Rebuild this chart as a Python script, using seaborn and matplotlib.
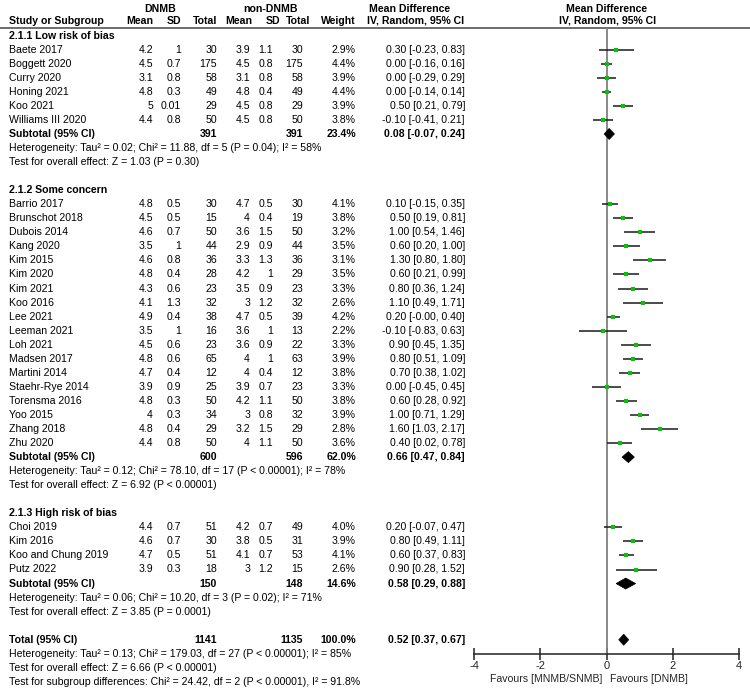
import numpy as np
import pandas as pd
import matplotlib
matplotlib.use("Agg")
import matplotlib.pyplot as plt
from matplotlib.patches import Polygon
import seaborn as sns

# ---------------- data ----------------
group_titles = ["2.1.1 Low risk of bias", "2.1.2 Some concern", "2.1.3 High risk of bias"]

studies = [
    ["Baete 2017", "Boggett 2020", "Curry 2020", "Honing 2021", "Koo 2021", "Williams III 2020"],
    ["Barrio 2017", "Brunschot 2018", "Dubois 2014", "Kang 2020", "Kim 2015", "Kim 2020",
     "Kim 2021", "Koo 2016", "Lee 2021", "Leeman 2021", "Loh 2021", "Madsen 2017",
     "Martini 2014", "Staehr-Rye 2014", "Torensma 2016", "Yoo 2015", "Zhang 2018", "Zhu 2020"],
    ["Choi 2019", "Kim 2016", "Koo and Chung 2019", "Putz 2022"],
]
mean_dnmb = [[4.2, 4.5, 3.1, 4.8, 5, 4.4],
             [4.8, 4.5, 4.6, 3.5, 4.6, 4.8, 4.3, 4.1, 4.9, 3.5, 4.5, 4.8, 4.7, 3.9, 4.8, 4, 4.8, 4.4],
             [4.4, 4.6, 4.7, 3.9]]
sd_dnmb = [[1, 0.7, 0.8, 0.3, 0.01, 0.8],
           [0.5, 0.5, 0.7, 1, 0.8, 0.4, 0.6, 1.3, 0.4, 1, 0.6, 0.6, 0.4, 0.9, 0.3, 0.3, 0.4, 0.8],
           [0.7, 0.7, 0.5, 0.3]]
n_dnmb = [[30, 175, 58, 49, 29, 50],
          [30, 15, 50, 44, 36, 28, 23, 32, 38, 16, 23, 65, 12, 25, 50, 34, 29, 50],
          [51, 30, 51, 18]]
mean_non = [[3.9, 4.5, 3.1, 4.8, 4.5, 4.5],
            [4.7, 4, 3.6, 2.9, 3.3, 4.2, 3.5, 3, 4.7, 3.6, 3.6, 4, 4, 3.9, 4.2, 3, 3.2, 4],
            [4.2, 3.8, 4.1, 3]]
sd_non = [[1.1, 0.8, 0.8, 0.4, 0.8, 0.8],
          [0.5, 0.4, 1.5, 0.9, 1.3, 1, 0.9, 1.2, 0.5, 1, 0.9, 1, 0.4, 0.7, 1.1, 0.8, 1.5, 1.1],
          [0.7, 0.5, 0.7, 1.2]]
n_non = [[30, 175, 58, 49, 29, 50],
         [30, 19, 50, 44, 36, 29, 23, 32, 39, 13, 22, 63, 12, 23, 50, 32, 29, 50],
         [49, 31, 53, 15]]
weight = [[2.9, 4.4, 3.9, 4.4, 3.9, 3.8],
          [4.1, 3.8, 3.2, 3.5, 3.1, 3.5, 3.3, 2.6, 4.2, 2.2, 3.3, 3.9, 3.8, 3.3, 3.8, 3.9, 2.8, 3.6],
          [4.0, 3.9, 4.1, 2.6]]
md = [[0.30, 0.00, 0.00, 0.00, 0.50, -0.10],
      [0.10, 0.50, 1.00, 0.60, 1.30, 0.60, 0.80, 1.10, 0.20, -0.10, 0.90, 0.80, 0.70, 0.00, 0.60, 1.00, 1.60, 0.40],
      [0.20, 0.80, 0.60, 0.90]]
ci_lo = [[-0.23, -0.16, -0.29, -0.14, 0.21, -0.41],
         [-0.15, 0.19, 0.54, 0.20, 0.80, 0.21, 0.36, 0.49, -0.00, -0.83, 0.45, 0.51, 0.38, -0.45, 0.28, 0.71, 1.03, 0.02],
         [-0.07, 0.49, 0.37, 0.28]]
ci_hi = [[0.83, 0.16, 0.29, 0.14, 0.79, 0.21],
         [0.35, 0.81, 1.46, 1.00, 1.80, 0.99, 1.24, 1.71, 0.40, 0.63, 1.35, 1.09, 1.02, 0.45, 0.92, 1.29, 2.17, 0.78],
         [0.47, 1.11, 0.83, 1.52]]

sub_n_dnmb = [391, 600, 150]
sub_n_non = [391, 596, 148]
sub_weight = [23.4, 62.0, 14.6]
sub_md = [0.08, 0.66, 0.58]
sub_lo = [-0.07, 0.47, 0.29]
sub_hi = [0.24, 0.84, 0.88]
sub_het = ["Heterogeneity: Tau² = 0.02; Chi² = 11.88, df = 5 (P = 0.04); I² = 58%",
           "Heterogeneity: Tau² = 0.12; Chi² = 78.10, df = 17 (P < 0.00001); I² = 78%",
           "Heterogeneity: Tau² = 0.06; Chi² = 10.20, df = 3 (P = 0.02); I² = 71%"]
sub_z = ["Test for overall effect: Z = 1.03 (P = 0.30)",
         "Test for overall effect: Z = 6.92 (P < 0.00001)",
         "Test for overall effect: Z = 3.85 (P = 0.0001)"]

total_n_dnmb, total_n_non, total_weight = 1141, 1135, 100.0
total_md, total_lo, total_hi = 0.52, 0.37, 0.67
total_het = "Heterogeneity: Tau² = 0.13; Chi² = 179.03, df = 27 (P < 0.00001); I² = 85%"
total_z = "Test for overall effect: Z = 6.66 (P < 0.00001)"
subgroup_test = "Test for subgroup differences: Chi² = 24.42, df = 2 (P < 0.00001), I² = 91.8%"

xticks = [-4, -2, 0, 2, 4]

# ---------------- layout ----------------
sns.set_theme(style="white")
plt.rcParams["font.family"] = ["Liberation Sans", "DejaVu Sans"]
FS = 7.6

W, H = 750, 690
y0, dy = 7.5, 14.05
line_y = 27.5
axis_y = 654
x_lo_px, x_hi_px = 474, 739

def row_y(r):
    return y0 + r * dy

# column right edges / positions (pixels)
col_study = 9
col_m1, col_sd1, col_n1 = 153, 181, 217
col_m2, col_sd2, col_n2 = 250, 273, 303
col_w = 356
col_ci = 465

fig = plt.figure(figsize=(W / 100, H / 100), dpi=100)
ax = fig.add_axes([0, 0, 1, 1])
ax.set_xlim(0, W)
ax.set_ylim(H, 0)
ax.axis("off")

axf = fig.add_axes([x_lo_px / W, (H - axis_y) / H, (x_hi_px - x_lo_px) / W, (axis_y - line_y) / H])
axf.set_xlim(xticks[0], xticks[-1])
axf.set_ylim(axis_y, line_y)
axf.patch.set_alpha(0)

def txt(x, y, s, ha="left", bold=False):
    ax.text(x, y, s, ha=ha, va="center", fontsize=FS, color="black",
            fontweight="bold" if bold else "normal")

# header
top_y, hdr = 8.5, 20.5
txt(160, top_y, "DNMB", ha="center", bold=True)
txt(271, top_y, "non-DNMB", ha="center", bold=True)
txt(410, top_y, "Mean Difference", ha="center", bold=True)
txt(607, top_y, "Mean Difference", ha="center", bold=True)
txt(col_study, hdr, "Study or Subgroup", bold=True)
txt(col_m1, hdr, "Mean", ha="right", bold=True)
txt(col_sd1, hdr, "SD", ha="right", bold=True)
txt(col_n1, hdr, "Total", ha="right", bold=True)
txt(252, hdr, "Mean", ha="right", bold=True)
txt(280, hdr, "SD", ha="right", bold=True)
txt(310, hdr, "Total", ha="right", bold=True)
txt(col_w, hdr, "Weight", ha="right", bold=True)
txt(416, hdr, "IV, Random, 95% CI", ha="center", bold=True)
txt(608, hdr, "IV, Random, 95% CI", ha="center", bold=True)
ax.axhline(line_y, color="#555555", lw=1.2)

def fmt(v):
    return f"{v:g}"

def ci_text(m, lo, hi):
    return f"{m:.2f} [{lo:.2f}, {hi:.2f}]"

recs = []
diamonds = []
r = 2
for g in range(3):
    txt(col_study, row_y(r), group_titles[g], bold=True)
    r += 1
    for i, name in enumerate(studies[g]):
        y = row_y(r)
        txt(col_study, y, name)
        txt(col_m1, y, fmt(mean_dnmb[g][i]), ha="right")
        txt(col_sd1, y, fmt(sd_dnmb[g][i]), ha="right")
        txt(col_n1, y, fmt(n_dnmb[g][i]), ha="right")
        txt(col_m2, y, fmt(mean_non[g][i]), ha="right")
        txt(col_sd2, y, fmt(sd_non[g][i]), ha="right")
        txt(col_n2, y, fmt(n_non[g][i]), ha="right")
        txt(col_w, y, f"{weight[g][i]:.1f}%", ha="right")
        txt(col_ci, y, ci_text(md[g][i], ci_lo[g][i], ci_hi[g][i]), ha="right")
        recs.append({"study": name, "y": y, "md": md[g][i], "lo": ci_lo[g][i],
                     "hi": ci_hi[g][i], "weight": weight[g][i]})
        r += 1
    y = row_y(r)
    txt(col_study, y, "Subtotal (95% CI)", bold=True)
    txt(col_n1, y, str(sub_n_dnmb[g]), ha="right", bold=True)
    txt(col_n2, y, str(sub_n_non[g]), ha="right", bold=True)
    txt(col_w, y, f"{sub_weight[g]:.1f}%", ha="right", bold=True)
    txt(col_ci, y, ci_text(sub_md[g], sub_lo[g], sub_hi[g]), ha="right", bold=True)
    diamonds.append((y, sub_md[g], sub_lo[g], sub_hi[g]))
    r += 1
    txt(col_study, row_y(r), sub_het[g]); r += 1
    txt(col_study, row_y(r), sub_z[g]); r += 1
    r += 1

y = row_y(r)
txt(col_study, y, "Total (95% CI)", bold=True)
txt(col_n1, y, str(total_n_dnmb), ha="right", bold=True)
txt(col_n2, y, str(total_n_non), ha="right", bold=True)
txt(col_w, y, f"{total_weight:.1f}%", ha="right", bold=True)
txt(col_ci, y, ci_text(total_md, total_lo, total_hi), ha="right", bold=True)
diamonds.append((y, total_md, total_lo, total_hi))
r += 1
txt(col_study, row_y(r), total_het); r += 1
txt(col_study, row_y(r), total_z); r += 1
txt(col_study, row_y(r), subgroup_test)

df = pd.DataFrame(recs)

# ---------------- forest panel ----------------
axf.axvline(0, color="#808080", lw=1.3, zorder=1)
axf.hlines(df["y"], df["lo"], df["hi"], color="#1a1a1a", lw=1.1, zorder=2)
sns.scatterplot(data=df, x="md", y="y", marker="s", s=7, color="#00c800",
                linewidth=0, ax=axf, zorder=3, legend=False)
for (yd, m, lo, hi) in diamonds:
    axf.add_patch(Polygon([(lo, yd), (m, yd - 5.5), (hi, yd), (m, yd + 5.5)],
                          closed=True, facecolor="black", edgecolor="black", lw=0.5, zorder=4))

for side in ["top", "right", "left"]:
    axf.spines[side].set_visible(False)
axf.spines["bottom"].set_color("#222222")
axf.spines["bottom"].set_linewidth(1.1)
axf.set_xticks(xticks)
axf.set_xticklabels([str(t) for t in xticks])
axf.set_yticks([])
axf.tick_params(axis="x", direction="inout", length=8, width=1.1, color="#222222",
                labelsize=FS + 0.4, pad=1, bottom=True)
axf.set_xlabel("")
axf.set_ylabel("")
axf.text(-0.12, 679, "Favours [MNMB/SNMB]", ha="right", va="center", fontsize=FS, clip_on=False)
axf.text(0.12, 679, "Favours [DNMB]", ha="left", va="center", fontsize=FS, clip_on=False)

fig.savefig("out.png", dpi=100)
